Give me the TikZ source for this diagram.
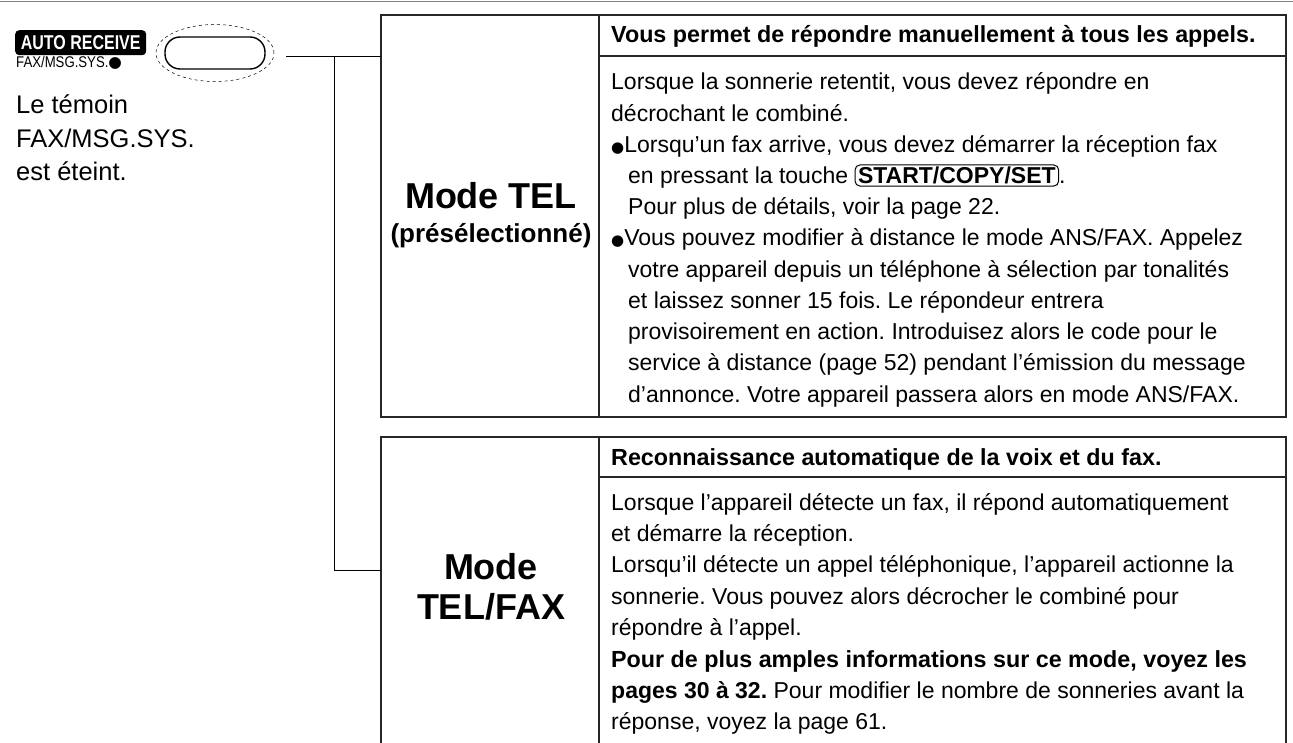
\documentclass[tikz,border=0pt]{standalone}
\usepackage{fontspec}
\usetikzlibrary{shapes.geometric}
\setmainfont{Liberation Sans}
\newfontfamily\symf{DejaVu Sans}
\frenchspacing
\begin{document}
\begin{tikzpicture}[x=1pt,y=-1pt,
  ln/.style={line width=1.3pt,draw=black!85},
  bt/.style={anchor=base west,inner sep=0pt,font=\fontsize{23}{24}\selectfont},
  bb/.style={bt,font=\fontsize{23.3}{24}\selectfont\bfseries},
  mode/.style={anchor=center,inner sep=0pt,font=\fontsize{36}{40}\selectfont\bfseries},
  keybox/.style={draw,line width=1pt,rounded corners=5pt,inner xsep=3pt,inner ysep=2pt}]
\newcommand\keyx[1]{\tikz[baseline=(k.base)]\node[keybox](k){\bfseries #1};}
\useasboundingbox (0,0) rectangle (1293,743);
\draw[line width=1pt,draw=black!50] (0,2) -- (1293,2);
% left panel
\node[fill=black,rounded corners=4pt,text=white,inner sep=0pt,minimum width=131pt,minimum height=25pt,anchor=north west,
  font=\fontsize{20}{20}\selectfont\bfseries\addfontfeature{FakeStretch=0.8}] (ar) at (15,30) {AUTO RECEIVE};
\node[anchor=north west,inner sep=0pt,font=\fontsize{15.5}{16}\selectfont\addfontfeature{FakeStretch=0.85}] (fm) at (16,56) {FAX/MSG.SYS.{\symf ●}};
\node[draw,dashed,ellipse,minimum width=118pt,minimum height=57pt,line width=0.5pt] (el) at (215,53) {};
\node[draw,line width=1.4pt,rounded corners=15pt,minimum width=100pt,minimum height=32pt] (btn) at (215,53) {};
\node[bt,font=\fontsize{25.5}{34}\selectfont] (l1) at (16,114) {Le témoin};
\node[bt,font=\fontsize{25.5}{34}\selectfont] (l2) at (16,148) {FAX/MSG.SYS.};
\node[bt,font=\fontsize{25.5}{34}\selectfont] (l3) at (16,181) {est éteint.};
% boxes
\coordinate (a1) at (381,15); \coordinate (a2) at (1286,417);
\draw[ln] (a1) rectangle (a2);
\draw[ln] (599,15) -- (599,417);
\draw[ln] (599,56) -- (1286,56);
\draw[ln] (381,743) -- (381,437) -- (1286,437) -- (1286,743);
\draw[ln] (599,437) -- (599,743);
\draw[ln] (599,477) -- (1286,477);
% connectors
\coordinate (j1) at (334,57); \coordinate (j2) at (334,570);
\coordinate (e1) at (381,57); \coordinate (e2) at (381,570);
\coordinate (s0) at (286,57);
\draw[line width=1pt] (s0) -- (e1);
\draw[line width=1pt] (j1) -- (j2) -- (e2);
% mode labels
\node[mode] (m1) at (491,196) {Mode TEL};
\node[mode,font=\fontsize{26}{28}\selectfont\bfseries] (m1b) at (491,236) {(présélectionné)};
\node[mode] (m2) at (491,567) {Mode};
\node[mode] (m2b) at (491,607) {TEL/FAX};
% top box text
\node[bb] (h1) at (611,43) {Vous permet de répondre manuellement à tous les appels.};
\node[bt] (t1) at (611,90) {Lorsque la sonnerie retentit, vous devez répondre en};
\node[bt] (t2) at (611,121.2) {décrochant le combiné.};
\node[bt] (t3) at (611,152.4) {{\symf\fontsize{15}{15}\selectfont●}Lorsqu’un fax arrive, vous devez démarrer la réception fax};
\node[bt] (t4) at (628,183.6) {en pressant la touche \keyx{START/COPY/SET}.};
\node[bt] (t5) at (628,214.8) {Pour plus de détails, voir la page 22.};
\node[bt] (t6) at (611,246) {{\symf\fontsize{15}{15}\selectfont●}Vous pouvez modifier à distance le mode ANS/FAX. Appelez};
\node[bt] (t7) at (628,277.2) {votre appareil depuis un téléphone à sélection par tonalités};
\node[bt] (t8) at (628,308.4) {et laissez sonner 15 fois. Le répondeur entrera};
\node[bt] (t9) at (628,339.6) {provisoirement en action. Introduisez alors le code pour le};
\node[bt] (t10) at (628,370.8) {service à distance (page 52) pendant l’émission du message};
\node[bt] (t11) at (628,402) {d’annonce. Votre appareil passera alors en mode ANS/FAX.};
% bottom box text
\node[bb] (h2) at (611,465) {Reconnaissance automatique de la voix et du fax.};
\node[bt] (u1) at (611,510) {Lorsque l’appareil détecte un fax, il répond automatiquement};
\node[bt] (u2) at (611,541.4) {et démarre la réception.};
\node[bt] (u3) at (611,572.8) {Lorsqu’il détecte un appel téléphonique, l’appareil actionne la};
\node[bt] (u4) at (611,604.2) {sonnerie. Vous pouvez alors décrocher le combiné pour};
\node[bt] (u5) at (611,635.6) {répondre à l’appel.};
\node[bb] (u6) at (611,667) {Pour de plus amples informations sur ce mode, voyez les};
\node[bt] (u7) at (611,698.4) {\textbf{pages 30 à 32.} Pour modifier le nombre de sonneries avant la};
\node[bt] (u8) at (611,729.8) {réponse, voyez la page 61.};
\end{tikzpicture}
\end{document}
